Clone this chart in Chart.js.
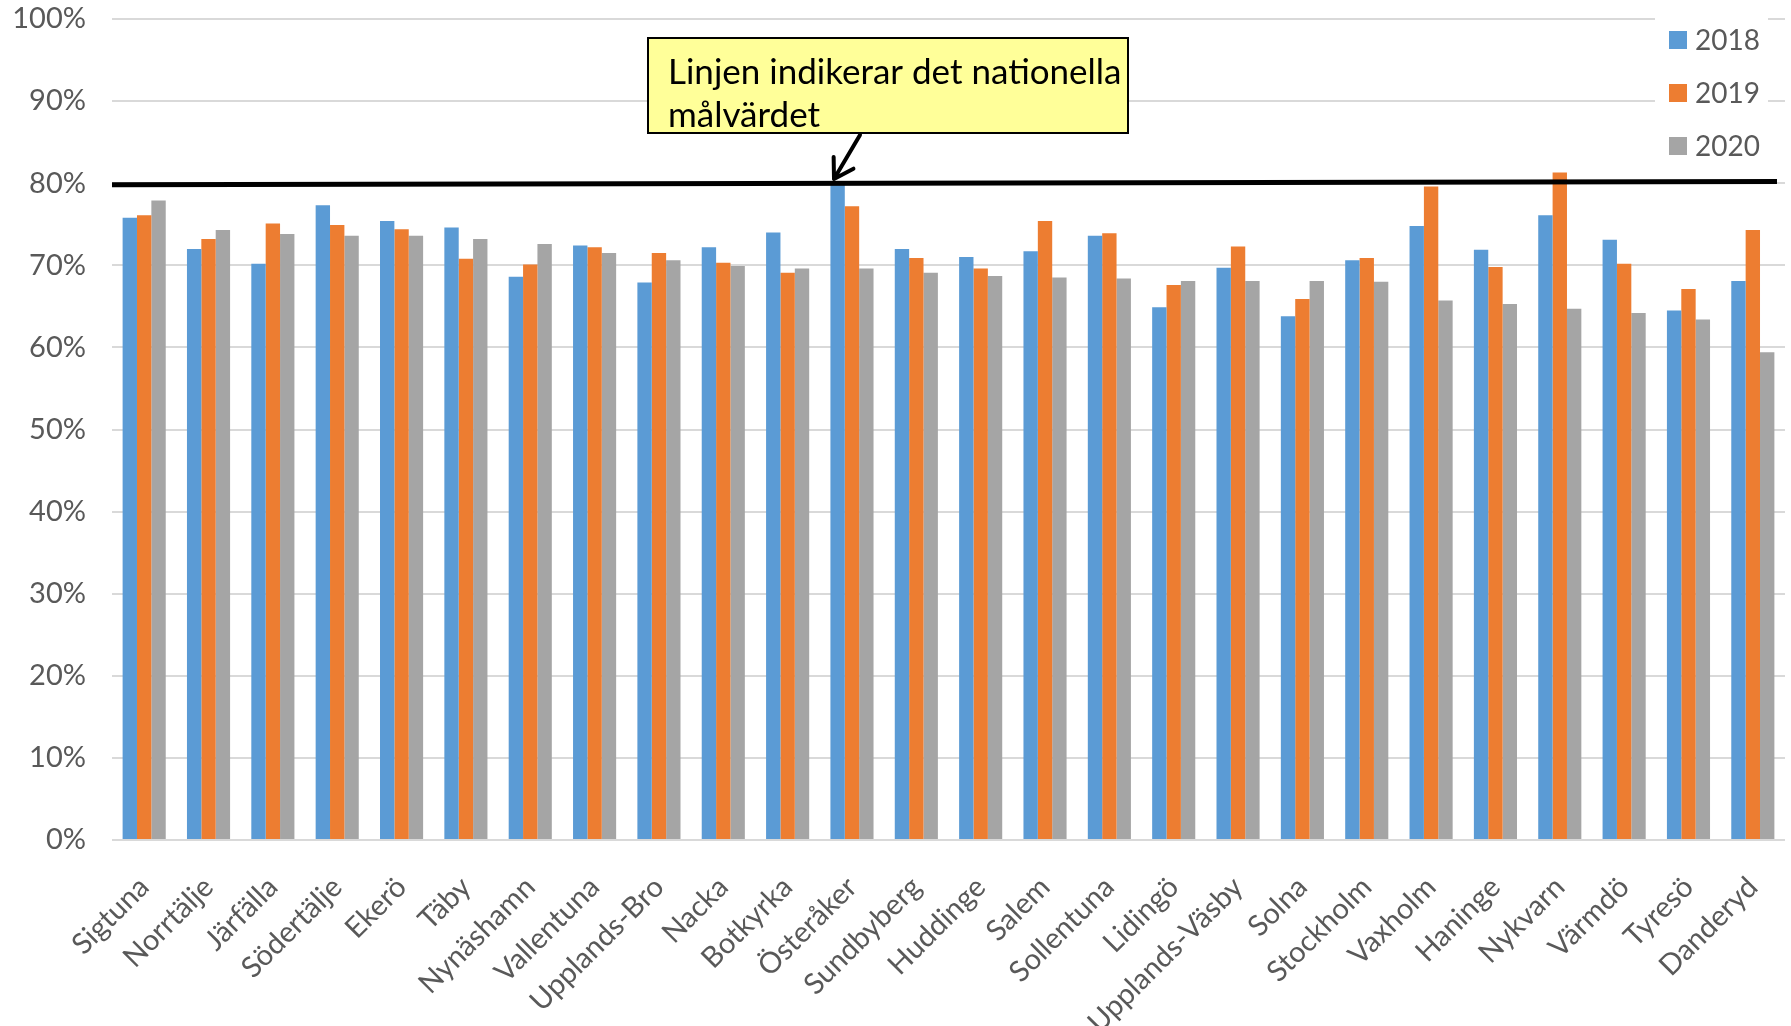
<!DOCTYPE html>
<html>
<head>
<meta charset="utf-8">
<script src="https://cdn.jsdelivr.net/npm/chart.js@4.4.1/dist/chart.umd.min.js"></script>
<style>
  html, body { margin: 0; padding: 0; background: #ffffff; }
  #wrap { width: 1791px; height: 1026px; }
</style>
</head>
<body>
<div id="wrap"><canvas id="chart" width="1791" height="1026"></canvas></div>
<script>
// Kommuner, andel per år (%)
const categories = [
  'Sigtuna', 'Norrtälje', 'Järfälla', 'Södertälje', 'Ekerö', 'Täby', 'Nynäshamn',
  'Vallentuna', 'Upplands-Bro', 'Nacka', 'Botkyrka', 'Österåker', 'Sundbyberg',
  'Huddinge', 'Salem', 'Sollentuna', 'Lidingö', 'Upplands-Väsby', 'Solna',
  'Stockholm', 'Vaxholm', 'Haninge', 'Nykvarn', 'Värmdö', 'Tyresö', 'Danderyd'
];
const values2018 = [75.8, 72.0, 70.2, 77.3, 75.4, 74.6, 68.6, 72.4, 67.9, 72.2, 74.0, 79.9, 72.0,
                    71.0, 71.7, 73.6, 64.9, 69.7, 63.8, 70.6, 74.8, 71.9, 76.1, 73.1, 64.5, 68.1];
const values2019 = [76.1, 73.2, 75.1, 74.9, 74.4, 70.8, 70.1, 72.2, 71.5, 70.3, 69.1, 77.2, 70.9,
                    69.6, 75.4, 73.9, 67.6, 72.3, 65.9, 70.9, 79.6, 69.8, 81.3, 70.2, 67.1, 74.3];
const values2020 = [77.9, 74.3, 73.8, 73.6, 73.6, 73.2, 72.6, 71.5, 70.6, 69.9, 69.6, 69.6, 69.1,
                    68.7, 68.5, 68.4, 68.1, 68.1, 68.1, 68.0, 65.7, 65.3, 64.7, 64.2, 63.4, 59.4];
const seriesLabels = ['2018', '2019', '2020'];
const seriesColors = ['#5B9BD5', '#ED7D31', '#A5A5A5'];
// national target line, value at left and right end
const targetLine = [79.8, 80.2];
const noteLines = ['Linjen indikerar det nationella', 'målvärdet'];

const FONT = 'Lato, "Open Sans", sans-serif';
const TEXT_GREY = '#595959';

// target line + note box + legend, drawn on top of the bars
const overlayPlugin = {
  id: 'overlay',
  afterDatasetsDraw(chart) {
    const { ctx, chartArea, scales } = chart;
    ctx.save();
    ctx.strokeStyle = '#000000';
    ctx.lineWidth = 5;
    ctx.beginPath();
    ctx.moveTo(chartArea.left, scales.y.getPixelForValue(targetLine[0]));
    ctx.lineTo(chartArea.right - 8, scales.y.getPixelForValue(targetLine[1]));
    ctx.stroke();
    ctx.restore();
  },
  afterDraw(chart) {
    const { ctx } = chart;
    ctx.save();

    // note box
    const bx = 648, by = 38, bw = 480, bh = 95;
    ctx.fillStyle = '#FFFF99';
    ctx.fillRect(bx, by, bw, bh);
    ctx.strokeStyle = '#000000';
    ctx.lineWidth = 2;
    ctx.strokeRect(bx, by, bw, bh);
    ctx.fillStyle = '#000000';
    ctx.font = '35px ' + FONT;
    ctx.textBaseline = 'alphabetic';
    ctx.textAlign = 'left';
    ctx.fillText(noteLines[0], 668, 84, 454);
    ctx.fillText(noteLines[1], 668, 127, 454);

    // arrow to the line
    const sx = 860, sy = 135, tx = 834, ty = 179;
    ctx.lineWidth = 4;
    ctx.lineCap = 'round';
    ctx.beginPath();
    ctx.moveTo(sx, sy);
    ctx.lineTo(tx, ty);
    const ang = Math.atan2(ty - sy, tx - sx);
    const head = 22;
    ctx.moveTo(tx, ty);
    ctx.lineTo(tx - head * Math.cos(ang - 0.55), ty - head * Math.sin(ang - 0.55));
    ctx.moveTo(tx, ty);
    ctx.lineTo(tx - head * Math.cos(ang + 0.55), ty - head * Math.sin(ang + 0.55));
    ctx.stroke();

    // legend
    ctx.fillStyle = '#ffffff';
    ctx.fillRect(1655, 8, 113, 160);
    ctx.font = '28px ' + FONT;
    ctx.textBaseline = 'middle';
    chart.data.datasets.forEach((ds, i) => {
      const cy = 40 + i * 53;
      ctx.fillStyle = ds.backgroundColor;
      ctx.fillRect(1669, cy - 9, 18, 18);
      ctx.fillStyle = TEXT_GREY;
      ctx.fillText(ds.label, 1695, cy + 1);
    });
    ctx.restore();
  }
};

new Chart(document.getElementById('chart'), {
  type: 'bar',
  data: {
    labels: categories,
    datasets: [values2018, values2019, values2020].map((vals, i) => ({
      label: seriesLabels[i],
      data: vals,
      backgroundColor: seriesColors[i],
      borderWidth: 0,
      categoryPercentage: 0.67,
      barPercentage: 1.0,
    })),
  },
  options: {
    responsive: false,
    animation: false,
    layout: { padding: { top: 19, right: 6, left: 0, bottom: 0 } },
    plugins: {
      legend: { display: false },
      tooltip: { enabled: false },
    },
    scales: {
      x: {
        grid: { display: false, drawTicks: false },
        border: { display: false },
        ticks: {
          color: TEXT_GREY,
          font: { family: FONT, size: 29 },
          minRotation: 45,
          maxRotation: 45,
          padding: 30,
          autoSkip: false,
        },
        afterFit(scale) {
          scale.height = 186;
          scale.paddingLeft = 0;
          scale.paddingRight = 0;
        },
      },
      y: {
        min: 0,
        max: 100,
        grid: { color: '#D9D9D9', lineWidth: 2, drawTicks: false },
        border: { display: false },
        ticks: {
          stepSize: 10,
          color: TEXT_GREY,
          font: { family: FONT, size: 29 },
          padding: 26,
          callback: v => v + '%',
        },
        afterFit(scale) {
          scale.width = 112;
          scale.paddingTop = 0;
          scale.paddingBottom = 0;
        },
      },
    },
  },
  plugins: [overlayPlugin],
});
</script>
</body>
</html>
